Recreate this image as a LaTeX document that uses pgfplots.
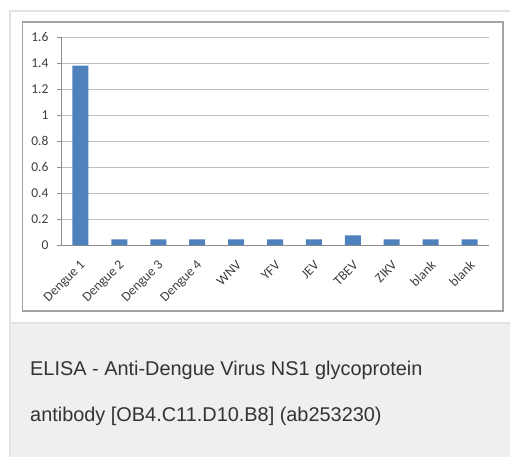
\documentclass[border=0pt]{standalone}
\usepackage{fontspec}
\setmainfont{Carlito}
\newfontfamily\capfont{Liberation Sans}
\usepackage{pgfplots}
\pgfplotsset{compat=1.18}
\definecolor{barblue}{HTML}{4F81BD}
\definecolor{cardgray}{HTML}{EEEFEF}
\definecolor{cardline}{HTML}{E3E3E3}
\definecolor{framegray}{HTML}{A3A3A3}
\definecolor{gridgray}{HTML}{BEBEBE}
\definecolor{axisgray}{HTML}{8C8C8C}
\definecolor{ticktext}{HTML}{3F3F3F}
\definecolor{captext}{HTML}{333333}
\begin{document}
\begin{tikzpicture}[x=1pt,y=1pt]
\path[use as bounding box] (0,0) rectangle (510,456);
\clip (0,0) rectangle (510,456);
\fill[white] (0,0) rectangle (510,456);
\fill[cardgray] (10,-5) rectangle (520,133);
\draw[cardline, line width=2pt] (10,-5) -- (10,445) -- (520,445);
\draw[cardline, line width=2pt] (10,133) -- (520,133);
\draw[framegray, line width=1.3pt] (22.5,145) rectangle (503,434);
\begin{axis}[
  at={(61pt,211pt)}, anchor=south west,
  scale only axis, width=428pt, height=208pt,
  xmin=-0.5, xmax=10.5, ymin=0, ymax=1.6,
  axis x line*=bottom, axis y line*=left,
  axis line style={-, draw=axisgray, line width=0.8pt},
  tick style={draw=axisgray, line width=0.8pt},
  tick align=outside, major tick length=4pt,
  ytick={0,0.2,0.4,0.6,0.8,1,1.2,1.4,1.6},
  ymajorgrids, grid style={gridgray, line width=0.8pt},
  /pgf/number format/assume math mode=true,
  yticklabel style={font=\fontsize{13.5}{15}\selectfont, text=ticktext, xshift=-5pt},
  xtick={0,1,2,3,4,5,6,7,8,9,10},
  xticklabels={Dengue 1,Dengue 2,Dengue 3,Dengue 4,WNV,YFV,JEV,TBEV,ZIKV,blank,blank},
  xtick style={draw=none},
  xticklabel style={font=\fontsize{13.5}{15}\selectfont, text=ticktext, inner sep=0pt, xshift=3pt, yshift=-14pt, rotate=45, anchor=east},
  extra x ticks={-0.5,0.5,1.5,2.5,3.5,4.5,5.5,6.5,7.5,8.5,9.5,10.5},
  extra x tick labels={},
  extra x tick style={grid=none, major tick length=5pt, tick style={draw=axisgray}},
]
\addplot[ybar, bar width=16pt, fill=barblue, draw=none] coordinates {
  (0,1.38) (1,0.044) (2,0.044) (3,0.044) (4,0.044) (5,0.044)
  (6,0.044) (7,0.075) (8,0.044) (9,0.044) (10,0.044)
};
\end{axis}
\node[anchor=base west, font=\capfont\fontsize{19.9}{22}\selectfont, text=captext, inner sep=0pt] at (30,81) {ELISA - Anti-Dengue Virus NS1 glycoprotein};
\node[anchor=base west, font=\capfont\fontsize{19.9}{22}\selectfont, text=captext, inner sep=0pt] at (30,34.5) {antibody [OB4.C11.D10.B8] (ab253230)};
\end{tikzpicture}
\end{document}
